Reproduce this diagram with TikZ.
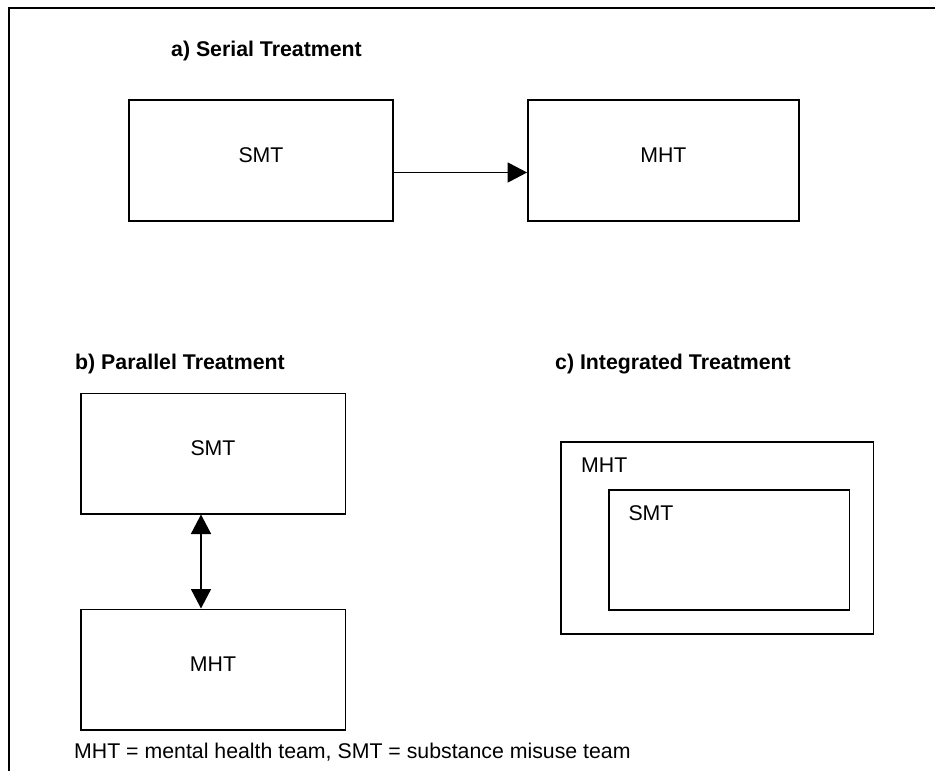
\documentclass[tikz,border=0pt]{standalone}
\usepackage{fontspec}
\setmainfont{Liberation Sans}
\usetikzlibrary{arrows.meta}
\begin{document}
\begin{tikzpicture}[x=1pt,y=-1pt,
  every node/.style={inner sep=0pt, font=\fontsize{21.3}{25}\selectfont},
  box/.style={draw, line width=1.6pt, inner sep=0pt},
  title/.style={anchor=base west, font=\fontsize{21.3}{25}\selectfont\bfseries},
  lbl/.style={anchor=base},
  conn/.style={line width=1.6pt},
  >={Triangle[length=19.5pt,width=20pt]}
]
\useasboundingbox (0,0) rectangle (935,771);
\fill[white] (0,0) rectangle (935,771);
% frame (left and top edges only)
\coordinate (fbl) at (9,775);
\coordinate (ftl) at (9,8);
\coordinate (ftr) at (940,8);
\draw[line width=1.6pt] (fbl) -- (ftl) -- (ftr);

% a) Serial Treatment
\node[title] (ta) at (171,56.5) {a) Serial Treatment};
\node[box, minimum width=264pt, minimum height=120.5pt] (sA) at (261,160.5) {};
\node[box, minimum width=271pt, minimum height=120.5pt] (mA) at (663.4,160.5) {};
\node[lbl] (sAl) at (261,162.5) {SMT};
\node[lbl] (mAl) at (663.4,162.5) {MHT};
\draw[conn, ->] ([yshift=-12pt]sA.east) -- ([yshift=-12pt]mA.west);

% b) Parallel Treatment
\node[title] (tb) at (75,369.5) {b) Parallel Treatment};
\node[box, minimum width=264.6pt, minimum height=120.4pt] (sB) at (213,453.5) {};
\node[box, minimum width=264.6pt, minimum height=120.7pt] (mB) at (213,669.65) {};
\node[lbl] (sBl) at (213,455.8) {SMT};
\node[lbl] (mBl) at (213,671.8) {MHT};
\draw[conn, <->] ([xshift=-12pt]sB.south) -- ([xshift=-12pt]mB.north);

% c) Integrated Treatment
\node[title] (tc) at (555,369.5) {c) Integrated Treatment};
\node[box, minimum width=312.3pt, minimum height=192.3pt] (oC) at (717.15,537.85) {};
\node[box, minimum width=240.3pt, minimum height=120pt] (iC) at (729.15,550) {};
\node[anchor=base west] (oCl) at (581,472.3) {MHT};
\node[anchor=base west] (iCl) at (628.3,520) {SMT};

% caption
\node[anchor=base west] (cap) at (74,758.8) {MHT = mental health team, SMT = substance misuse team};
\end{tikzpicture}
\end{document}
